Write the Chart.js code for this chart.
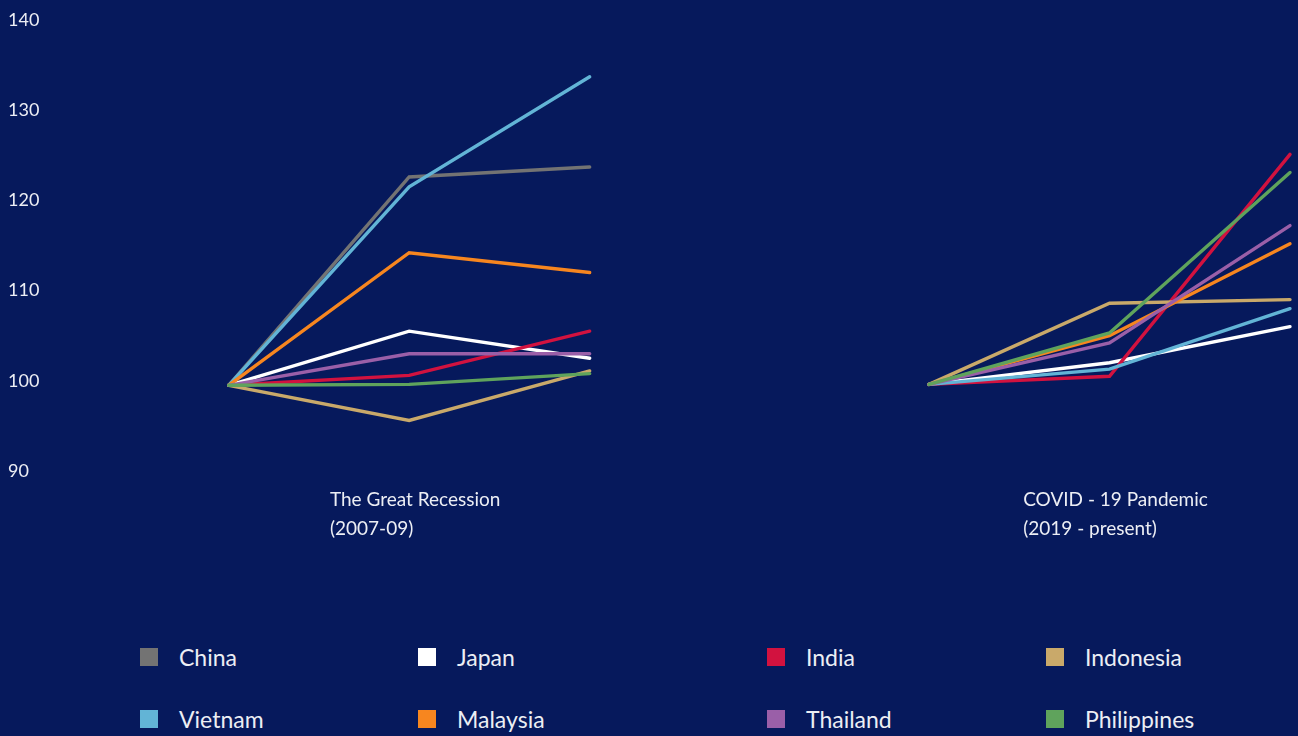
<!DOCTYPE html>
<html>
<head>
<meta charset="utf-8">
<script src="https://cdn.jsdelivr.net/npm/chart.js@4"></script>
<style>
  html, body { margin: 0; padding: 0; background: #06195c; }
  body { width: 1298px; height: 736px; position: relative; overflow: hidden; font-family: Lato, "Noto Sans", sans-serif; }
  #chart-wrap { position: absolute; left: 0; top: 0; width: 1298px; height: 560px; }
  #legend {
    position: absolute; left: 140px; top: 626px;
    display: grid; grid-template-columns: 278px 349px 279px 200px; grid-auto-rows: 62px;
  }
  .item { display: flex; align-items: center; color: #eceef4; font-size: 23px; }
  .box { width: 18px; height: 18px; margin-right: 21px; }
</style>
</head>
<body>
<div id="chart-wrap"><canvas id="growthChart"></canvas></div>
<div id="legend"></div>
<script>
// legend order (row by row)
const countries = ["China", "Japan", "India", "Indonesia", "Vietnam", "Malaysia", "Thailand", "Philippines"];
const colors = ["#737373", "#ffffff", "#d2123f", "#c9a96a", "#62b4d6", "#f7861f", "#9a5fa8", "#5fa35c"];

// two crises, three points each
const periodLabels = [["The Great Recession", "(2007-09)"], ["COVID - 19 Pandemic", "(2019 - present)"]];
const periodX = [[0, 1, 2], [3.88, 4.88, 5.88]];

const yTicks = [90, 100, 110, 120, 130, 140];

// index values, same order as countries
const greatRecession = [
    [99.5, 122.6, 123.7], // China
    [99.5, 105.5, 102.5], // Japan
    [99.5, 100.6, 105.5], // India
    [99.5, 95.6, 101.1],  // Indonesia
    [99.5, 121.5, 133.7], // Vietnam
    [99.5, 114.2, 112.0], // Malaysia
    [99.5, 103.0, 103.0], // Thailand
    [99.5, 99.6, 100.8]   // Philippines
];
const covid19 = [
    null,                 // China - not shown
    [99.6, 102.0, 106.0], // Japan
    [99.6, 100.5, 125.1], // India
    [99.6, 108.6, 109.0], // Indonesia
    [99.6, 101.3, 108.0], // Vietnam
    [99.6, 105.0, 115.2], // Malaysia
    [99.6, 104.2, 117.2], // Thailand
    [99.6, 105.3, 123.1]  // Philippines
];

const datasets = [];
[greatRecession, covid19].forEach((period, p) => {
    period.forEach((vals, i) => {
        if (!vals) return;
        datasets.push({
            label: countries[i],
            data: vals.map((v, k) => ({ x: periodX[p][k], y: v })),
            borderColor: colors[i],
            borderWidth: 3.4,
            borderCapStyle: 'round',
            pointRadius: 0,
            tension: 0,
            clip: false,
            order: countries.length - i
        });
    });
});

// period titles under each group
const periodTitles = {
    id: 'periodTitles',
    afterDraw(chart) {
        const ctx = chart.ctx;
        const xs = chart.scales.x;
        const bottom = chart.chartArea.bottom;
        ctx.save();
        ctx.font = '19px Lato, "Noto Sans", sans-serif';
        ctx.fillStyle = '#eceef4';
        ctx.textAlign = 'left';
        ctx.textBaseline = 'middle';
        periodLabels.forEach((lines, p) => {
            const mid = xs.getPixelForValue(periodX[p][1]);
            const left = mid - ctx.measureText(lines[0]).width / 2 + 6;
            lines.forEach((t, j) => ctx.fillText(t, left, bottom + 29 + j * 29));
        });
        ctx.restore();
    }
};

new Chart(document.getElementById('growthChart'), {
    type: 'line',
    data: { datasets },
    options: {
        responsive: true,
        maintainAspectRatio: false,
        animation: false,
        layout: { padding: { top: 20, bottom: 89, left: 8, right: 8 } },
        plugins: { legend: { display: false }, tooltip: { enabled: false } },
        scales: {
            x: { type: 'linear', min: -0.99, max: 5.88, display: false },
            y: {
                min: 90, max: 140,
                afterBuildTicks: s => { s.ticks = yTicks.map(v => ({ value: v })); },
                afterFit: s => { s.width = 42; },
                grid: { display: false },
                border: { display: false },
                ticks: {
                    color: '#eceef4',
                    crossAlign: 'far',
                    font: { family: 'Lato, "Noto Sans", sans-serif', size: 18 }
                }
            }
        }
    },
    plugins: [periodTitles]
});

// html legend, 4 columns
document.getElementById('legend').innerHTML = countries.map((c, i) =>
    `<div class="item"><span class="box" style="background:${colors[i]}"></span>${c}</div>`
).join('');
</script>
</body>
</html>
